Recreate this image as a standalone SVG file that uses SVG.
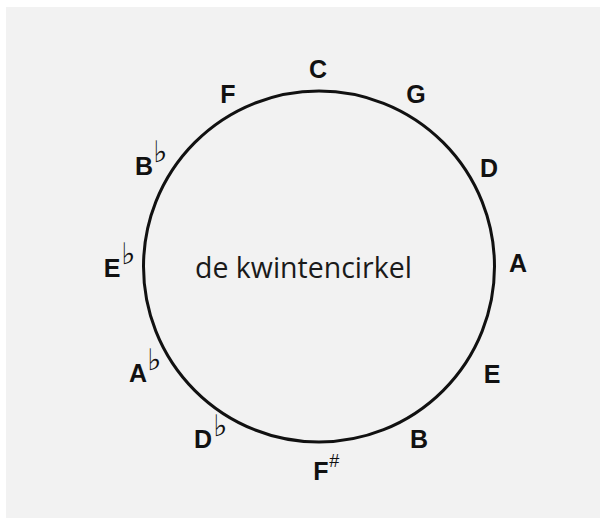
<svg xmlns="http://www.w3.org/2000/svg" width="600" height="518" viewBox="0 0 600 518">
<style>
.k{font-family:"Liberation Sans",Arial,sans-serif;font-weight:bold;font-size:25px;fill:#111;text-anchor:middle}
.fl{font-family:"DejaVu Serif","DejaVu Sans",serif;font-size:30px;fill:#111111}
.sh{font-family:"Liberation Sans",Arial,sans-serif;font-size:18px;fill:#111;font-style:italic}
.t{font-family:"Open Sans",sans-serif;font-size:28.5px;fill:#1a1a1a}
</style>
<rect x="0" y="0" width="600" height="518" fill="#ffffff"/>
<rect x="6" y="7" width="594" height="511" fill="#f2f2f2"/>
<g id="connectors">
<circle cx="319" cy="266.5" r="175.5" fill="none" stroke="#111" stroke-width="3"/>
</g>
<g id="title"><text class="t" x="195" y="277.5">de kwintencirkel</text></g>
<g id="C"><text class="k" x="318" y="78">C</text></g>
<g id="G"><text class="k" x="416" y="103">G</text></g>
<g id="D"><text class="k" x="489" y="177">D</text></g>
<g id="A"><text class="k" x="518" y="272">A</text></g>
<g id="E"><text class="k" x="492" y="383">E</text></g>
<g id="B"><text class="k" x="419" y="448">B</text></g>
<g id="Fsharp"><text class="k" x="321" y="480">F</text><text class="sh" x="329" y="467">#</text></g>
<g id="Dflat"><text class="k" x="203" y="448">D</text><text class="fl" x="213" y="436">♭</text></g>
<g id="Aflat"><text class="k" x="138" y="382">A</text><text class="fl" x="147" y="370">♭</text></g>
<g id="Eflat"><text class="k" x="112" y="277">E</text><text class="fl" x="121" y="264">♭</text></g>
<g id="Bflat"><text class="k" x="144" y="175">B</text><text class="fl" x="153" y="162">♭</text></g>
<g id="F"><text class="k" x="228" y="103">F</text></g>
</svg>
